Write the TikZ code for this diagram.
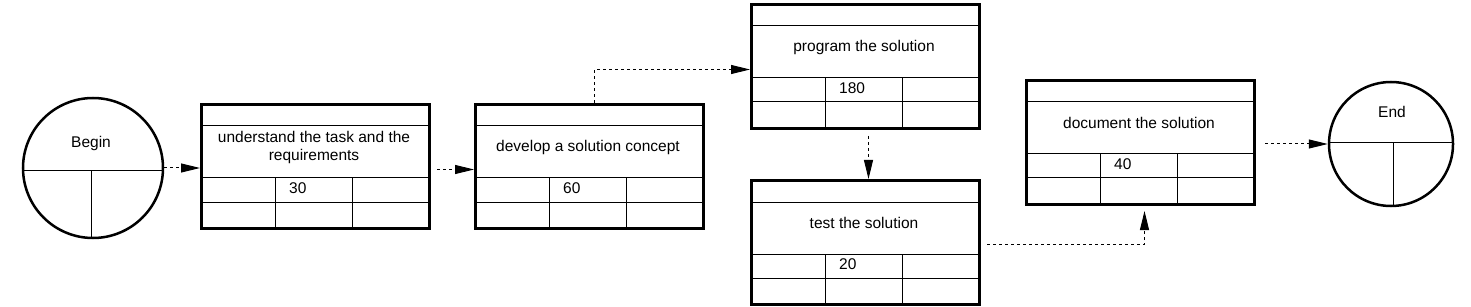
\documentclass[tikz,border=0pt]{standalone}
\usepackage{fontspec}
\setmainfont{Liberation Sans}
\usetikzlibrary{arrows.meta,calc}
\tikzset{
  taskbox/.style={draw, line width=3pt, rectangle, minimum width=228pt, minimum height=124pt, inner sep=0pt, anchor=north west},
  inner/.style={line width=1pt},
  evcircle/.style={draw, line width=2.5pt, circle, inner sep=0pt},
  txt/.style={font=\fontsize{15.5}{18}\selectfont, align=center, inner sep=0pt},
  flow/.style={line width=1pt, dash pattern=on 3pt off 3pt, -{Triangle[length=19pt,width=9pt]}}
}
\newcommand\mytask[5]{%
  \node[taskbox] (#1) at (#2,#3) {};
  \draw[inner] (#2,#3+23) -- (#2+228,#3+23);
  \draw[inner] (#2,#3+75) -- (#2+228,#3+75);
  \draw[inner] (#2,#3+99) -- (#2+228,#3+99);
  \draw[inner] (#2+75,#3+75) -- (#2+75,#3+124);
  \draw[inner] (#2+152,#3+75) -- (#2+152,#3+124);
  \node[txt] (#1-t) at (#2+114,#3+44) {#4};
  \node[txt, anchor=west] (#1-n) at (#2+89,#3+85) {#5};
}
\begin{document}
\begin{tikzpicture}[x=1pt,y=-1pt]
\useasboundingbox (0,0) rectangle (1471,307);
% Begin
\node[evcircle, minimum size=140pt] (b) at (93,168) {};
\draw[inner] ($(b.center)+(-70,3)$) -- ($(b.center)+(70,3)$);
\draw[inner] ($(b.center)+(-2,3)$) -- ($(b.south)+(-2,0)$);
\node[txt] (bt) at (91,143) {Begin};
% End
\node[evcircle, minimum size=124pt] (e) at (1391,144) {};
\draw[inner] ($(e.center)+(-62,-1)$) -- ($(e.center)+(62,-1)$);
\draw[inner] ($(e.center)+(2,-1)$) -- ($(e.south)+(2,0)$);
\node[txt] (et) at (1392,112) {End};
% tasks
\mytask{t1}{200}{103}{understand the task and the\\requirements}{30}
\mytask{t2}{474}{103}{develop a solution concept}{60}
\mytask{t3}{750}{3}{program the solution}{180}
\mytask{t4}{750}{179}{test the solution}{20}
\mytask{t5}{1025}{79}{document the solution}{40}
% connectors
\draw[flow] (b.east) -- (b.east -| t1.west);
\draw[flow, shorten <=6pt] ([yshift=-3pt]t1.east) -- ([yshift=-3pt]t2.west);
\draw[flow] ([xshift=5pt]t2.north) |- ([yshift=-3pt]t3.west);
\draw[flow, shorten <=6pt] ([xshift=3pt]t3.south) -- ([xshift=3pt]t4.north);
\draw[flow, shorten <=6pt, shorten >=5pt] ([yshift=-2pt]t4.east) -| ([xshift=4pt]t5.south);
\draw[flow, shorten <=9pt] (t5.east |- e.west) -- (e.west);
\end{tikzpicture}
\end{document}
